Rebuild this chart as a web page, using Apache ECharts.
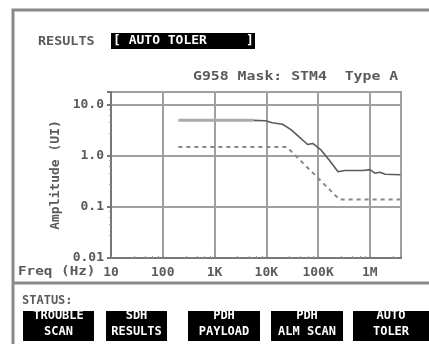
<!DOCTYPE html>
<html><head><meta charset="utf-8">
<script src="https://cdn.jsdelivr.net/npm/echarts@6/dist/echarts.min.js"></script>
<style>html,body{margin:0;padding:0;background:#fff}#c{width:429px;height:344px}</style>
</head><body><div id="c"></div>
<script>
const xTickValues = [10, 100, 1000, 10000, 100000, 1000000];
const xTickLabels = ['10', '100', '1K', '10K', '100K', '1M'];
const yTickValues = [0.01, 0.1, 1, 10];
const yTickLabels = ['0.01', '0.1', '1.0', '10.0'];
const flatFreq = [200, 5700];
const flatUI = [5.0, 5.0];
const measuredFreq = [5700, 9700, 13000, 20600, 30000, 43000, 63000, 79000, 115000, 167000, 243000, 327000, 747000, 1000000, 1260000, 1570000, 1970000, 3900000];
const measuredUI = [5.0, 4.9, 4.5, 4.2, 3.3, 2.37, 1.68, 1.76, 1.3, 0.82, 0.49, 0.52, 0.52, 0.54, 0.46, 0.48, 0.44, 0.43];
const maskFreq = [200, 25000, 260000, 4000000];
const maskUI = [1.5, 1.5, 0.14, 0.14];
const buttons = [['TROUBLE', 'SCAN'], ['SDH', 'RESULTS'], ['PDH', 'PAYLOAD'], ['PDH', 'ALM SCAN'], ['AUTO', 'TOLER']];
const titleText = 'RESULTS';
const boxText = '[ AUTO TOLER     ]';
const subtitle = 'G958 Mask: STM4  Type A';

const FONT = 'DejaVu Sans Mono';
const GRAY = '#5a5a5a';
const zip = (a, b) => a.map((v, i) => [v, b[i]]);
const fmt = (vals, labs) => v => {
  for (let i = 0; i < vals.length; i++) if (Math.abs(Math.log10(v) - Math.log10(vals[i])) < 1e-6) return labs[i];
  return '';
};

const btnBoxes = [[23, 71], [106, 61], [188, 72], [271, 72], [353, 76]];
const graphic = [
  { type: 'rect', shape: { x: 13, y: 10, width: 430, height: 350 }, style: { fill: 'none', stroke: '#8a8a8a', lineWidth: 3 }, z: 1 },
  { type: 'line', shape: { x1: 13, y1: 283, x2: 440, y2: 283 }, style: { stroke: '#8a8a8a', lineWidth: 3 }, z: 1 },
  { type: 'text', x: 38, y: 42, scaleX: 1.12, style: { x: 0, y: 0, text: titleText, font: 'bold 12px ' + FONT, fill: GRAY, textVerticalAlign: 'middle' }, z: 5 },
  { type: 'rect', shape: { x: 111, y: 33, width: 144, height: 16 }, style: { fill: '#000' }, z: 4 },
  { type: 'text', x: 113, y: 41, scaleX: 1.0, style: { x: 0, y: 0, text: boxText, font: 'bold 13px ' + FONT, fill: '#fff', textVerticalAlign: 'middle' }, z: 5 },
  { type: 'text', x: 193, y: 77, scaleX: 1.14, style: { x: 0, y: 0, text: subtitle, font: 'bold 13px ' + FONT, fill: GRAY, textVerticalAlign: 'middle' }, z: 5 },
  { type: 'text', x: 18, y: 272, scaleX: 1.1, style: { x: 0, y: 0, text: 'Freq (Hz)', font: 'bold 13px ' + FONT, fill: GRAY, textVerticalAlign: 'middle' }, z: 5 },
  { type: 'text', x: 22, y: 301, scaleX: 1.0, style: { x: 0, y: 0, text: 'STATUS:', font: 'bold 12px ' + FONT, fill: GRAY, textVerticalAlign: 'middle' }, z: 5 }
];
buttons.forEach((b, i) => {
  const [bx, bw] = btnBoxes[i];
  graphic.push({ type: 'rect', shape: { x: bx, y: 311, width: bw, height: 30 }, style: { fill: '#000' }, z: 4 });
  graphic.push({ type: 'text', x: bx + bw / 2, y: 316, style: { x: 0, y: 0, text: b[0], font: 'bold 12px ' + FONT, fill: '#fff', textAlign: 'center', textVerticalAlign: 'middle' }, z: 5 });
  graphic.push({ type: 'text', x: bx + bw / 2, y: 332, style: { x: 0, y: 0, text: b[1], font: 'bold 12px ' + FONT, fill: '#fff', textAlign: 'center', textVerticalAlign: 'middle' }, z: 5 });
});

const chart = echarts.init(document.getElementById('c'), null, { renderer: 'canvas' });
chart.setOption({
  animation: false,
  backgroundColor: '#fff',
  grid: { left: 111, top: 92, right: 28, bottom: 86, show: true, borderColor: '#8a8a8a', borderWidth: 2, backgroundColor: 'transparent' },
  xAxis: {
    type: 'log', logBase: 10, min: 10, max: 4000000,
    axisLine: { lineStyle: { color: '#777', width: 2 } },
    axisTick: { show: true, inside: true, length: 3, lineStyle: { color: '#888' } },
    minorTick: { show: true, splitNumber: 5, length: 2, lineStyle: { color: '#999' } },
    axisLabel: { formatter: fmt(xTickValues, xTickLabels), color: GRAY, fontFamily: FONT, fontWeight: 'bold', fontSize: 13, margin: 8 },
    splitLine: { show: true, lineStyle: { color: '#a0a0a0', width: 2 } }
  },
  yAxis: {
    type: 'log', logBase: 10, min: 0.01, max: 18,
    name: 'Amplitude (UI)', nameLocation: 'middle', nameRotate: 90, nameGap: 43,
    nameTextStyle: { color: GRAY, fontFamily: FONT, fontWeight: 'bold', fontSize: 13 },
    axisLine: { show: true, lineStyle: { color: '#777', width: 2 } },
    axisTick: { show: true, length: 4, lineStyle: { color: '#777', width: 2 } },
    minorTick: { show: true, splitNumber: 5, length: 2, lineStyle: { color: '#999' } },
    axisLabel: { formatter: fmt(yTickValues, yTickLabels), color: GRAY, fontFamily: FONT, fontWeight: 'bold', fontSize: 13, margin: 7 },
    splitLine: { show: true, lineStyle: { color: '#a0a0a0', width: 2 } }
  },
  series: [
    { type: 'line', data: zip(maskFreq, maskUI), showSymbol: false, lineStyle: { color: '#8a8a8a', width: 2, type: [4, 4] }, z: 3 },
    { type: 'line', data: zip(flatFreq, flatUI), showSymbol: false, lineStyle: { color: '#aaaaaa', width: 3 }, z: 3 },
    { type: 'line', data: zip(measuredFreq, measuredUI), showSymbol: false, lineStyle: { color: '#5a5a5a', width: 1.6 }, z: 4 }
  ],
  graphic: graphic
});
</script></body></html>
